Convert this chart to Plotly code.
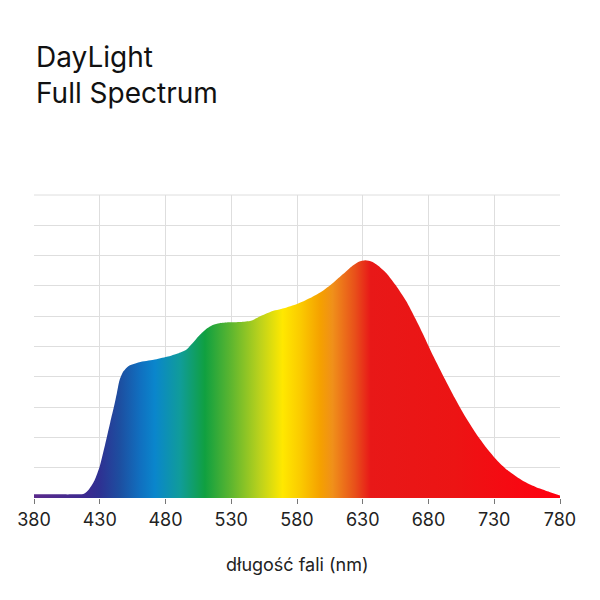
import plotly.graph_objects as go

# wavelength (nm) and relative intensity
wavelength = [380, 395, 410, 418, 422, 426, 430, 434, 438, 441, 443, 445, 448, 452, 460, 471, 481,
              490, 496, 501, 506, 511, 516, 521, 528, 537, 545, 552, 560, 570, 580, 590, 600, 608,
              615, 622, 627, 632, 637, 642, 648, 655, 663, 670, 677, 684, 692, 700, 708, 716, 724,
              732, 740, 748, 756, 764, 772, 780]
intensity = [1.2, 1.2, 1.2, 1.4, 3.0, 5.8, 10.5, 17.5, 25.0, 30.5, 34.6, 38.8, 41.8, 43.6, 44.8, 45.6, 46.6,
             47.8, 49.0, 51.3, 53.8, 55.8, 57.1, 57.7, 58.0, 58.1, 58.5, 60.0, 61.5, 62.6, 64.0, 66.0, 68.5, 71.2,
             73.9, 76.6, 78.0, 78.5, 78.0, 76.6, 74.2, 70.3, 65.0, 59.2, 53.0, 46.5, 39.6, 33.0, 26.8, 21.4, 16.6,
             12.5, 9.2, 6.7, 4.7, 3.2, 2.0, 0.8]

x_ticks = [380, 430, 480, 530, 580, 630, 680, 730, 780]
y_grid = [10, 20, 30, 40, 50, 60, 70, 80, 90]

spectrum_stops = [380, 420, 430, 445, 461, 472, 491, 510, 529, 552, 569, 582, 598, 607, 624, 636, 700, 780]
spectrum_colors = ["#5a2a8c", "#3b2a90", "#2e3192", "#1d4ea0", "#1070c0", "#0a86cc", "#109c9a",
                   "#10a040", "#5ab530", "#bcd21c", "#ffe800", "#fbcc00", "#f5a000", "#f0901a",
                   "#e8501a", "#e81818", "#ec1414", "#ff0010"]

wl_min, wl_max = 380, 780
colorscale = [[(s - wl_min) / (wl_max - wl_min), c] for s, c in zip(spectrum_stops, spectrum_colors)]

fig = go.Figure()
fig.add_trace(go.Scatter(
    x=wavelength, y=intensity,
    mode="lines",
    line=dict(width=0, shape="spline", smoothing=0.6),
    fill="tozeroy",
    fillgradient=dict(type="horizontal", colorscale=colorscale, start=wl_min, stop=wl_max),
    hoverinfo="skip",
    showlegend=False,
))

font_family = "Inter, Lato, sans-serif"
grid_color = "#dedede"

# the page body has an 8px margin, so the figure is 584x584 to fit the window
W = H = 584

fig.update_layout(
    width=W, height=H,
    margin=dict(l=26, r=32, t=187, b=94, autoexpand=False),
    paper_bgcolor="white", plot_bgcolor="white",
    title=dict(
        text="DayLight<br>Full Spectrum",
        xref="container", yref="container",
        x=28 / W, xanchor="left",
        y=1 - 59 / H, yanchor="top",
        font=dict(family=font_family, size=28, color="#111111"),
    ),
    xaxis=dict(
        range=[wl_min, wl_max],
        tickvals=x_ticks,
        ticktext=[str(v) for v in x_ticks],
        showgrid=True, gridcolor=grid_color, gridwidth=1,
        ticks="outside", ticklen=5, tickcolor="#777777", tickwidth=1,
        tickfont=dict(family=font_family, size=18, color="#222222"),
        zeroline=False, showline=False, automargin=False,
    ),
    yaxis=dict(
        range=[0, 100], tickvals=y_grid,
        showgrid=True, gridcolor=grid_color, gridwidth=1,
        showticklabels=False, ticks="",
        zeroline=False, showline=False, automargin=False,
    ),
    shapes=[dict(
        type="line", xref="paper", yref="paper",
        x0=0, x1=1, y0=1, y1=1,
        line=dict(color=grid_color, width=1), layer="below",
    )],
    annotations=[dict(
        text="długość fali (nm)",
        xref="paper", yref="paper",
        x=0.5, y=(498 - 564) / 303,
        xanchor="center", yanchor="middle",
        showarrow=False,
        font=dict(family=font_family, size=18, color="#222222"),
    )],
)

fig.write_html("out.html")
